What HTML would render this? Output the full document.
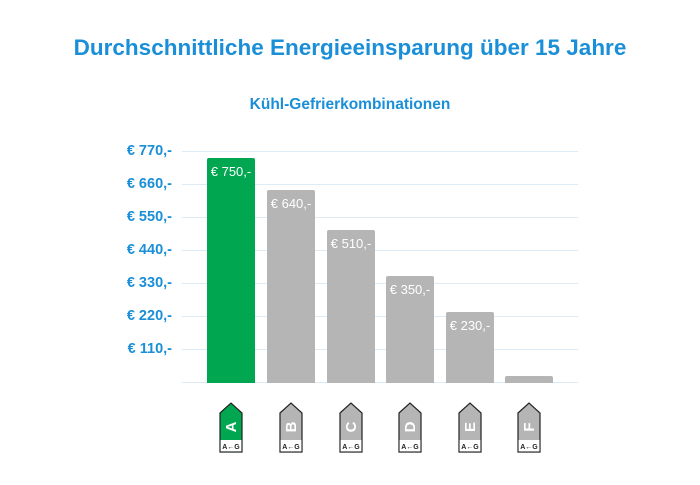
<!DOCTYPE html>
<html><head><style>
body{margin:0;width:700px;height:485px;background:#fff;font-family:"Liberation Sans",sans-serif;position:relative;overflow:hidden}
.t{position:absolute;left:0;width:700px;text-align:center;color:#1a8fd8;font-weight:bold}
.yl{position:absolute;left:98px;width:74px;text-align:right;color:#1a8fd8;font-weight:bold;font-size:14.5px}
.g{position:absolute;left:182px;width:396px;height:1px;background:#dcebf5}
.b{position:absolute;width:48px;border-radius:2px 2px 0 0}
.v{color:#fff;font-size:13px;text-align:center;padding-top:6px}
</style></head><body>
<div class="t" style="top:35px;font-size:22.5px">Durchschnittliche Energieeinsparung über 15 Jahre</div>
<div class="t" style="top:96px;font-size:15.5px">Kühl-Gefrierkombinationen</div>
<div class="g" style="top:151px"></div><div class="yl" style="top:143px">€ 770,-</div>
<div class="g" style="top:184px"></div><div class="yl" style="top:176px">€ 660,-</div>
<div class="g" style="top:217px"></div><div class="yl" style="top:209px">€ 550,-</div>
<div class="g" style="top:250px"></div><div class="yl" style="top:242px">€ 440,-</div>
<div class="g" style="top:283px"></div><div class="yl" style="top:275px">€ 330,-</div>
<div class="g" style="top:316px"></div><div class="yl" style="top:308px">€ 220,-</div>
<div class="g" style="top:349px"></div><div class="yl" style="top:341px">€ 110,-</div>
<div class="g" style="top:382px"></div>
<div class="b" style="left:207px;top:158px;height:225px;background:#00a650"><div class="v">€ 750,-</div></div>
<div class="b" style="left:267px;top:190px;height:193px;background:#b5b5b5"><div class="v">€ 640,-</div></div>
<div class="b" style="left:327px;top:230px;height:153px;background:#b5b5b5"><div class="v">€ 510,-</div></div>
<div class="b" style="left:386px;top:276px;height:107px;background:#b5b5b5"><div class="v">€ 350,-</div></div>
<div class="b" style="left:446px;top:312px;height:71px;background:#b5b5b5"><div class="v">€ 230,-</div></div>
<div class="b" style="left:505px;top:376px;height:7px;background:#b5b5b5"></div>
<svg width="700" height="485" style="position:absolute;left:0;top:0" font-family="Liberation Sans" font-weight="bold">
<g transform="translate(231,0)"><path d="M-11,413 L0,403 L11,413 L11,452 L-11,452 Z" fill="#00a650" stroke="#222" stroke-width="1.2"/><rect x="-10.4" y="440" width="20.8" height="11.4" fill="#fff"/><text transform="translate(5,427) rotate(-90)" text-anchor="middle" font-size="15" fill="#fff">A</text><text x="0" y="449" text-anchor="middle" font-size="7" fill="#222">A←G</text></g>
<g transform="translate(291,0)"><path d="M-11,413 L0,403 L11,413 L11,452 L-11,452 Z" fill="#b5b5b5" stroke="#222" stroke-width="1.2"/><rect x="-10.4" y="440" width="20.8" height="11.4" fill="#fff"/><text transform="translate(5,427) rotate(-90)" text-anchor="middle" font-size="15" fill="#fff">B</text><text x="0" y="449" text-anchor="middle" font-size="7" fill="#222">A←G</text></g>
<g transform="translate(351,0)"><path d="M-11,413 L0,403 L11,413 L11,452 L-11,452 Z" fill="#b5b5b5" stroke="#222" stroke-width="1.2"/><rect x="-10.4" y="440" width="20.8" height="11.4" fill="#fff"/><text transform="translate(5,427) rotate(-90)" text-anchor="middle" font-size="15" fill="#fff">C</text><text x="0" y="449" text-anchor="middle" font-size="7" fill="#222">A←G</text></g>
<g transform="translate(410,0)"><path d="M-11,413 L0,403 L11,413 L11,452 L-11,452 Z" fill="#b5b5b5" stroke="#222" stroke-width="1.2"/><rect x="-10.4" y="440" width="20.8" height="11.4" fill="#fff"/><text transform="translate(5,427) rotate(-90)" text-anchor="middle" font-size="15" fill="#fff">D</text><text x="0" y="449" text-anchor="middle" font-size="7" fill="#222">A←G</text></g>
<g transform="translate(470,0)"><path d="M-11,413 L0,403 L11,413 L11,452 L-11,452 Z" fill="#b5b5b5" stroke="#222" stroke-width="1.2"/><rect x="-10.4" y="440" width="20.8" height="11.4" fill="#fff"/><text transform="translate(5,427) rotate(-90)" text-anchor="middle" font-size="15" fill="#fff">E</text><text x="0" y="449" text-anchor="middle" font-size="7" fill="#222">A←G</text></g>
<g transform="translate(529,0)"><path d="M-11,413 L0,403 L11,413 L11,452 L-11,452 Z" fill="#b5b5b5" stroke="#222" stroke-width="1.2"/><rect x="-10.4" y="440" width="20.8" height="11.4" fill="#fff"/><text transform="translate(5,427) rotate(-90)" text-anchor="middle" font-size="15" fill="#fff">F</text><text x="0" y="449" text-anchor="middle" font-size="7" fill="#222">A←G</text></g>
</svg>
</body></html>
